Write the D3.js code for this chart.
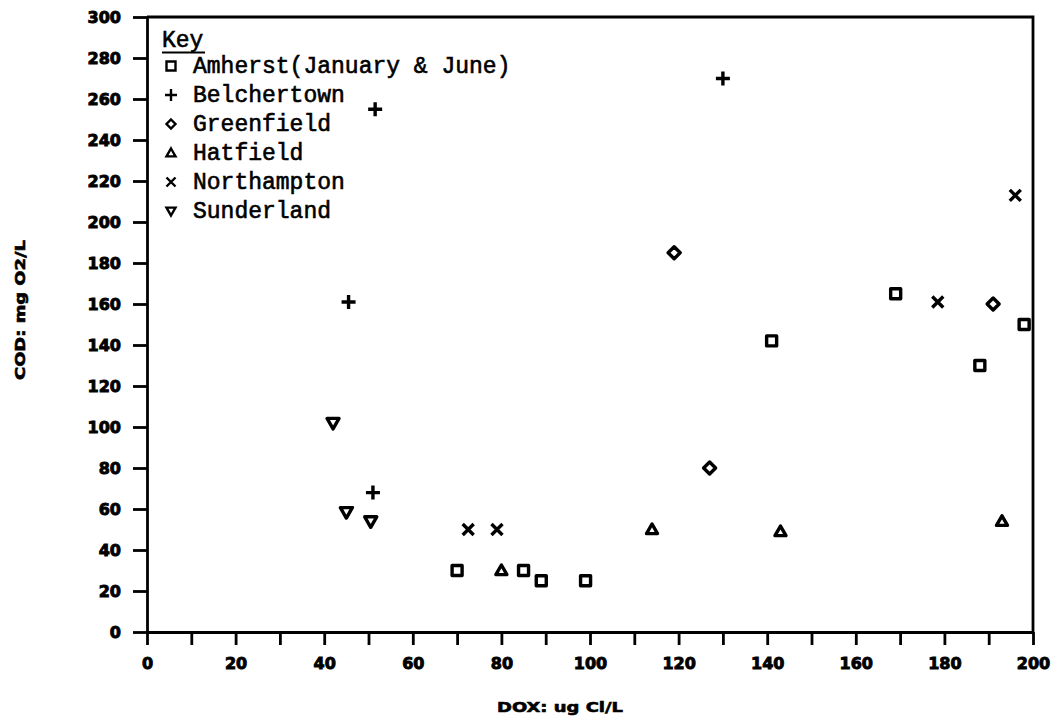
<!DOCTYPE html>
<html>
<head>
<meta charset="utf-8">
<script src="https://cdn.jsdelivr.net/npm/d3@7"></script>
<style>
  body { margin: 0; background: #fff; }
  svg { display: block; }
  .axis path, .axis line { stroke: #000; stroke-width: 2.8; }
  .axis text { font-family: "DejaVu Sans", sans-serif; font-weight: bold; font-size: 16px; fill: #000; stroke: #000; stroke-width: 0.9; }
  .ttl { font-family: "DejaVu Sans", sans-serif; font-weight: bold; font-size: 14px; fill: #000; stroke: #000; stroke-width: 0.6; }
  .key { font-family: "Liberation Mono", monospace; font-size: 23px; fill: #000; stroke: #000; stroke-width: 0.6; }
</style>
</head>
<body>
<svg id="chart" width="1059" height="721"></svg>
<script>
// data: [DOX ug Cl/L, COD mg O2/L]
const amherst     = [[70, 30], [85, 30], [89, 25], [99, 25], [141, 142], [169, 165], [188, 130], [198, 150]];
const belchertown = [[45.5, 161], [51, 68], [51.5, 255], [130, 270]];
const greenfield  = [[119, 185], [127, 80], [191, 160]];
const hatfield    = [[80, 30], [114, 50], [143, 49], [193, 54]];
const northampton = [[72.5, 50], [79, 50], [178.5, 161], [196, 213]];
const sunderland  = [[42, 102], [45, 58.5], [50.5, 54]];

const seriesNames = ["Amherst(January & June)", "Belchertown", "Greenfield", "Hatfield", "Northampton", "Sunderland"];
const seriesShapes = ["square", "plus", "diamond", "triUp", "cross", "triDown"];
const seriesData = [amherst, belchertown, greenfield, hatfield, northampton, sunderland];

const xTicks = d3.range(0, 201, 10);
const yTicks = d3.range(0, 301, 20);

const svg = d3.select("#chart");
const width = +svg.attr("width");
const height = +svg.attr("height");
const margin = {top: 17, right: 26, bottom: 89, left: 147};

const x = d3.scaleLinear().domain([0, 200]).range([margin.left, width - margin.right]);
const y = d3.scaleLinear().domain([0, 300]).range([height - margin.bottom, margin.top]);

svg.append("rect").attr("width", width).attr("height", height).attr("fill", "#fff");

// marker outlines, r = half size
function shape(type, r) {
  switch (type) {
    case "square": return `M${-r},${-r}H${r}V${r}H${-r}Z`;
    case "plus": return `M${-r},0H${r}M0,${-r}V${r}`;
    case "diamond": return `M0,${-r}L${r},0L0,${r}L${-r},0Z`;
    case "triUp": return `M0,${-r}L${r},${r * 0.75}H${-r}Z`;
    case "triDown": return `M0,${r}L${r},${-r * 0.75}H${-r}Z`;
    case "cross": return `M${-r},${-r}L${r},${r}M${r},${-r}L${-r},${r}`;
  }
}
const markSize = {square: 5, plus: 7, diamond: 6, triUp: 5.5, triDown: 6, cross: 5.5};

// axes
svg.append("g")
  .attr("class", "axis")
  .attr("transform", `translate(0,${y(0)})`)
  .call(d3.axisBottom(x).tickValues(xTicks).tickSize(13).tickSizeOuter(0)
    .tickFormat(d => d % 20 === 0 ? d : ""))
  .call(g => g.selectAll("text").attr("y", 26));

svg.append("g")
  .attr("class", "axis")
  .attr("transform", `translate(${x(0)},0)`)
  .call(d3.axisLeft(y).tickValues(yTicks).tickSize(14).tickSizeOuter(0).tickPadding(12));

// top and right frame
svg.append("path")
  .attr("d", `M${x(0)},${y(300)}H${x(200)}V${y(0)}`)
  .attr("fill", "none").attr("stroke", "#000").attr("stroke-width", 2.8);

// axis titles
svg.append("text").attr("class", "ttl")
  .attr("x", 560).attr("y", 712).attr("text-anchor", "middle")
  .attr("textLength", 126).attr("lengthAdjust", "spacingAndGlyphs")
  .text("DOX: ug Cl/L");

svg.append("text").attr("class", "ttl")
  .attr("transform", "translate(25,310) rotate(-90)")
  .attr("text-anchor", "middle")
  .attr("textLength", 140).attr("lengthAdjust", "spacingAndGlyphs")
  .text("COD: mg O2/L");

// points
seriesData.forEach((pts, i) => {
  const t = seriesShapes[i];
  svg.append("g")
    .selectAll("path")
    .data(pts)
    .join("path")
    .attr("transform", d => `translate(${x(d[0])},${y(d[1])})`)
    .attr("d", shape(t, markSize[t]))
    .attr("fill", "none")
    .attr("stroke", "#000")
    .attr("stroke-width", 3.4)
    .attr("stroke-linejoin", "round");
});

// key
const key = svg.append("g");
key.append("text").attr("class", "key").attr("x", 162).attr("y", 47).text("Key");
key.append("line").attr("x1", 162).attr("x2", 205).attr("y1", 52.5).attr("y2", 52.5)
  .attr("stroke", "#000").attr("stroke-width", 2);

const rows = key.selectAll("g.row")
  .data(seriesNames)
  .join("g")
  .attr("class", "row")
  .attr("transform", (d, i) => `translate(0,${73 + i * 29})`);

rows.append("path")
  .attr("transform", "translate(171,-7)")
  .attr("d", (d, i) => shape(seriesShapes[i], seriesShapes[i] === "plus" ? 6 : 4.5))
  .attr("fill", "none").attr("stroke", "#000").attr("stroke-width", 2.4);

rows.append("text").attr("class", "key").attr("x", 193).text(d => d);
</script>
</body>
</html>
